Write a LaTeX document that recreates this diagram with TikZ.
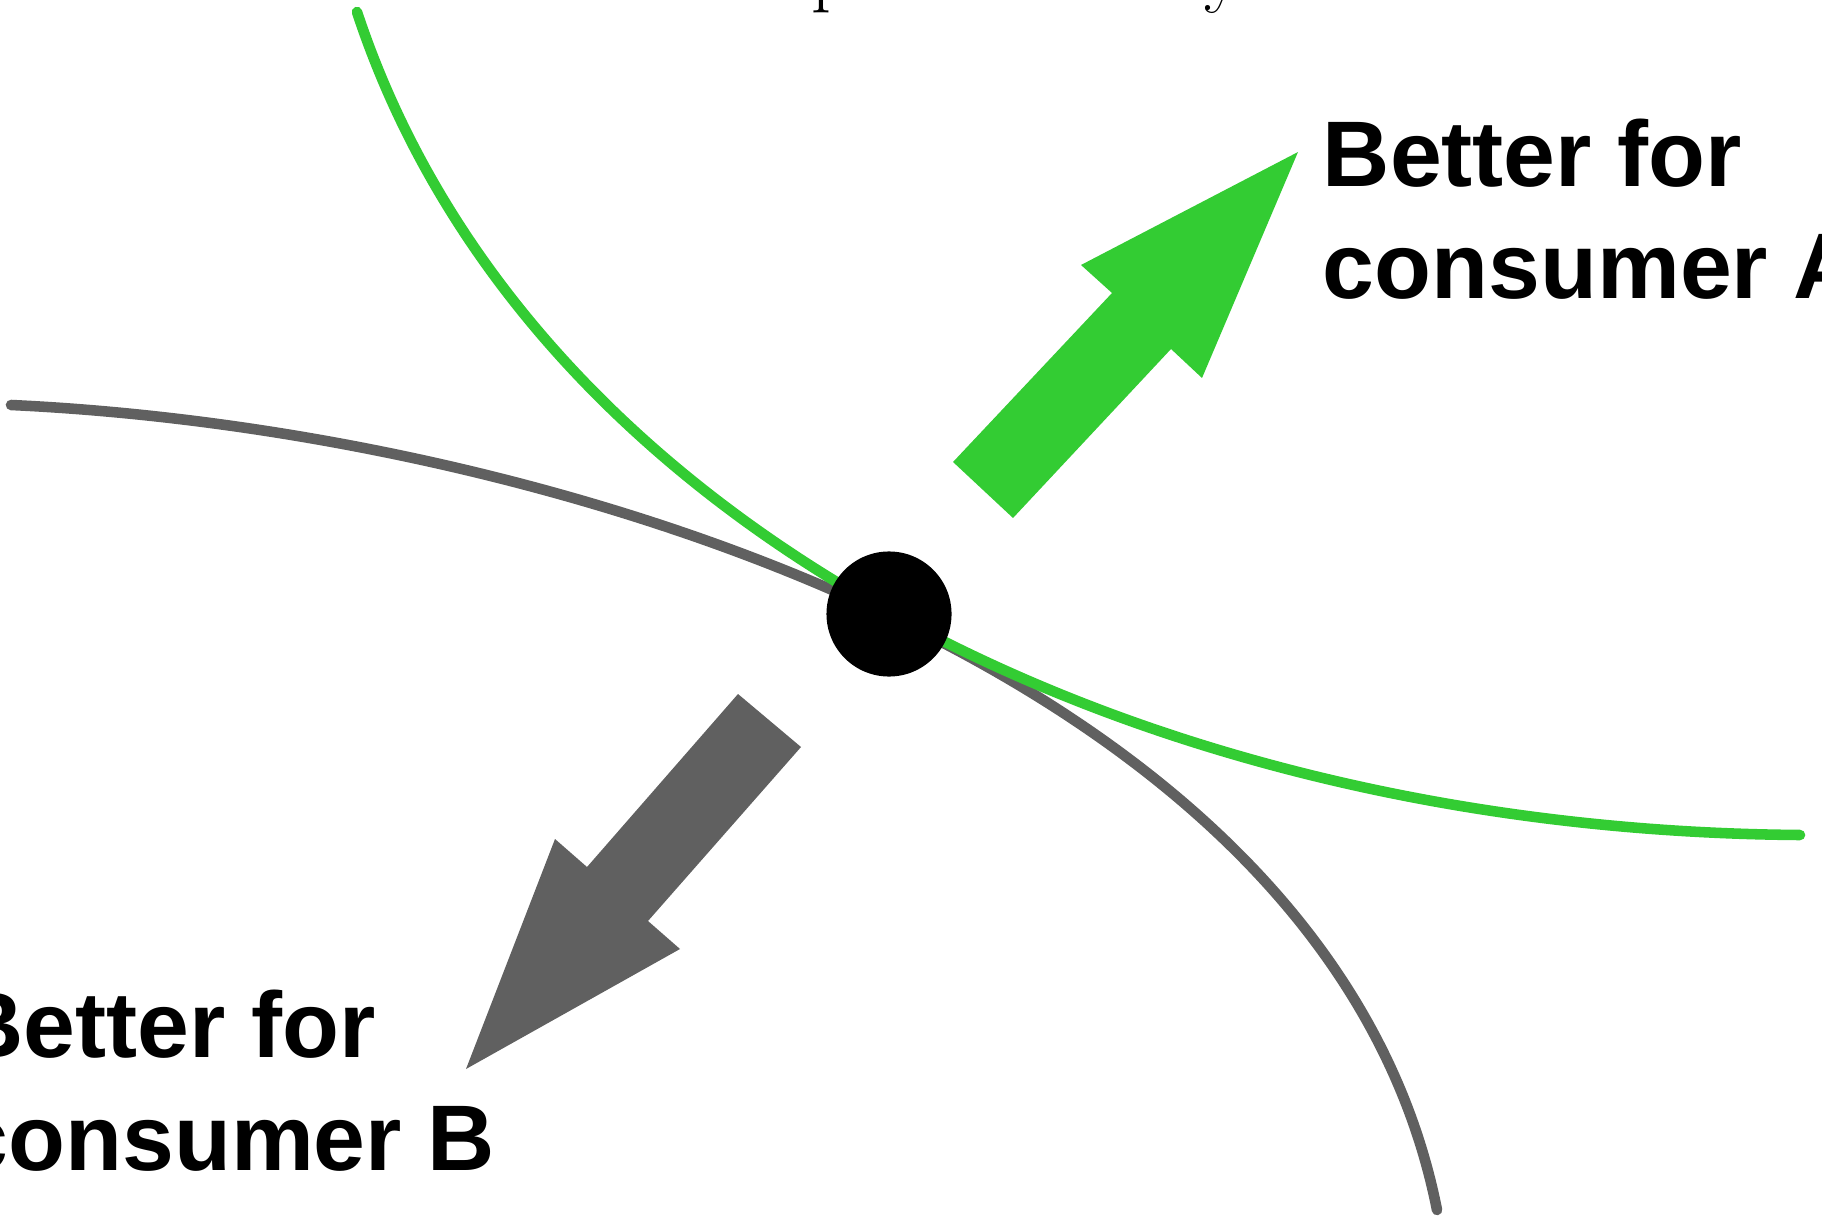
\documentclass[tikz,border=0pt]{standalone}
\usepackage{fontspec}
\newfontfamily\labelfont{Liberation Sans}
\usetikzlibrary{positioning}
\definecolor{greenA}{RGB}{51,204,51}
\definecolor{grayB}{RGB}{96,96,96}

\begin{document}
\begin{tikzpicture}[x=0.01cm, y=-0.01cm,
    curve/.style={line width=3pt, line cap=round},
    lbl/.style={font=\labelfont\bfseries\fontsize{26.5}{32}\selectfont, align=left, inner sep=0pt, anchor=base west}]
    \useasboundingbox (0,0) rectangle (1822,1216);

    % Titre (coupe en haut)
    \node[font=\fontsize{22.5}{27}\selectfont, anchor=base west, inner sep=0pt] (title) at (724,-2) {Improvement by};

    % Courbes d'indifference
    \coordinate (leftB) at (11,405);
    \coordinate (botB) at (1437,1210);
    \coordinate (topA) at (357,12);
    \coordinate (rightA) at (1800,835);
    \draw[curve, grayB] (leftB) .. controls (550,430) and (1330,670) .. (botB);
    \draw[curve, greenA] (topA) .. controls (525,520) and (1125,830) .. (rightA);

    % Point d'equilibre
    \node[circle, fill=black, minimum size=1.25cm, inner sep=0pt] (eq) at (889,614) {};

    % Fleches
    \fill[greenA] (953,462) -- (1112,293) -- (1081,265) -- (1298,152) -- (1202,378) -- (1171,349) -- (1013,518) -- cycle;
    \fill[grayB] (738,694) -- (587,867) -- (555,839) -- (466,1069) -- (680,949) -- (648,921) -- (801,747) -- cycle;

    % Etiquettes (ancre sur la derniere ligne)
    \node[lbl] (betterA) at (1322,299) {Better for\\consumer A};
    \node[lbl] (betterB) at (-44,1170) {Better for\\consumer B};
\end{tikzpicture}
\end{document}
